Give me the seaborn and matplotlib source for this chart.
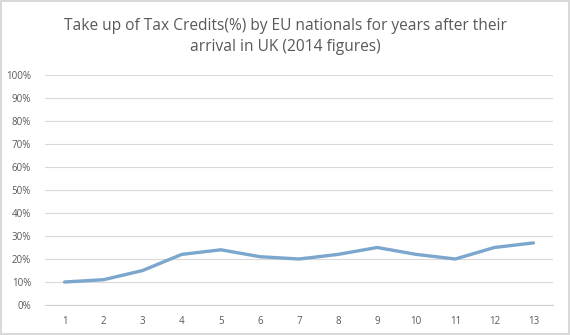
import matplotlib
matplotlib.use("Agg")
import matplotlib.pyplot as plt
import seaborn as sns
import pandas as pd
from matplotlib.ticker import PercentFormatter

years = [str(i) for i in range(1, 14)]
takeup = [10, 11, 15, 22, 24, 21, 20, 22, 25, 22, 20, 25, 27]
title = "Take up of Tax Credits(%) by EU nationals for years after their\narrival in UK (2014 figures)"

sns.set_theme(style="white")
plt.rcParams['font.family'] = ['Open Sans', 'DejaVu Sans']

df = pd.DataFrame({"year": years, "takeup": takeup})

fig = plt.figure(figsize=(5.7, 3.35), dpi=100, edgecolor="#d9d9d9", linewidth=1.5)
ax = fig.add_axes([45/570, 1 - 305/335, (553-45)/570, (305-75)/335])

sns.lineplot(data=df, x="year", y="takeup", ax=ax, color="#7BA6CD", linewidth=2.4, sort=False)

ax.set_ylim(0, 100)
ax.set_xlim(-0.5, 12.5)
ax.set_yticks(range(0, 101, 10))
ax.yaxis.set_major_formatter(PercentFormatter(decimals=0))
ax.grid(axis="y", color="#d9d9d9", linewidth=0.8)
ax.set_axisbelow(True)
for s in ["top", "right", "left"]:
    ax.spines[s].set_visible(False)
ax.spines["bottom"].set_color("#d0d0d0")
ax.spines["bottom"].set_linewidth(0.8)
ax.tick_params(axis="both", length=0, labelsize=7, colors="#595959", pad=8)
ax.tick_params(axis="y", pad=10)
ax.set_xlabel("")
ax.set_ylabel("")

fig.text(0.5, 1 - 36.5/335, title, ha="center", va="center", fontsize=11.2, color="#595959", linespacing=1.35)

fig.savefig("out.png", dpi=100, edgecolor=fig.get_edgecolor())
